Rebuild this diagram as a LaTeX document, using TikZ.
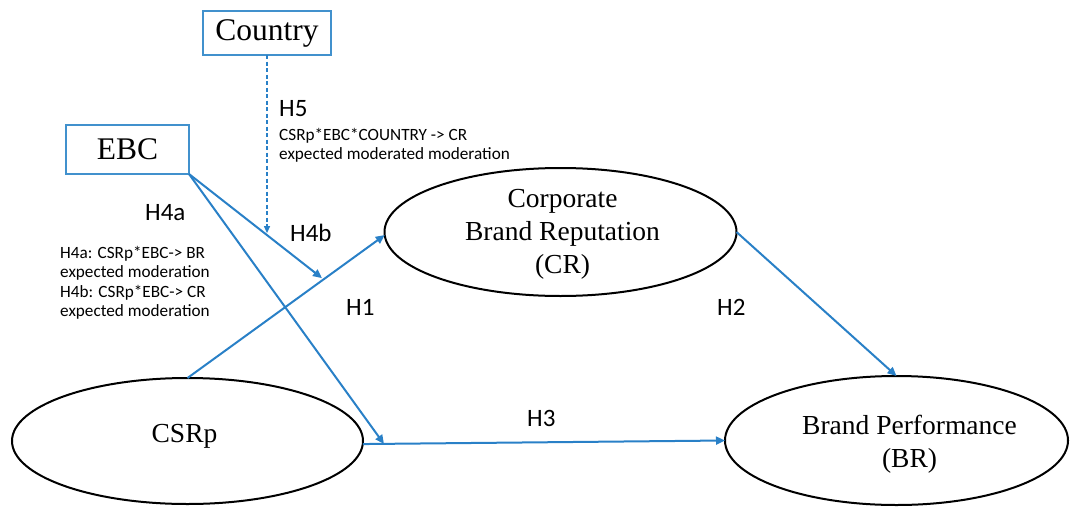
\documentclass[tikz,border=0pt]{standalone}
\usepackage{fontspec}
\setmainfont{Liberation Serif}
\newfontfamily\calfont{Carlito}
\usetikzlibrary{arrows.meta,calc,shapes.geometric}
\definecolor{arrowblue}{RGB}{41,128,199}
\definecolor{boxblue}{RGB}{65,145,205}
\begin{document}
\begin{tikzpicture}[x=1pt,y=-1pt,
  lat/.style={ellipse, draw=black, line width=2pt, inner sep=0pt, outer sep=0pt},
  lattext/.style={inner sep=0pt, align=center, font=\fontsize{27.5}{33}\selectfont},
  modbox/.style={rectangle, draw=boxblue, line width=1.5pt, inner sep=0pt, outer sep=0pt, font=\fontsize{31.5}{36}\selectfont},
  conn/.style={draw=arrowblue, line width=2pt, -{Triangle[length=9pt,width=8pt]}},
  dconn/.style={draw=arrowblue, line width=1.2pt, dash pattern=on 4pt off 2.5pt, -{Triangle[length=7pt,width=6pt]}},
  hlab/.style={font=\calfont\fontsize{25}{30}\selectfont, anchor=base west, inner sep=0pt},
  note/.style={font=\calfont\fontsize{17.2}{20}\selectfont, anchor=base west, inner sep=0pt}
]
\useasboundingbox (0,0) rectangle (1070,506);

% boxes
\node[modbox, minimum width=128pt, minimum height=44pt] (country) at (267,33) {Country};
\node[modbox, minimum width=123pt, minimum height=49pt] (ebc) at (127.5,149.5) {EBC};

% latent variables
\node[lat, minimum width=351pt, minimum height=126pt] (csrp) at (187.5,441) {};
\node[lat, minimum width=352pt, minimum height=128pt] (cr) at (560.5,232) {};
\node[lat, minimum width=343pt, minimum height=129pt] (br) at (896.5,440.5) {};

\node[lattext] (csrpt) at ($(csrp.center)+(-3,-5)$) {CSRp};
\node[lattext] (crt) at ($(cr.center)+(2,2)$) {Corporate\\Brand Reputation\\(CR)};
\node[lattext] (brt) at ($(br.center)+(13,4)$) {Brand Performance\\(BR)};

% interaction points
\coordinate (m4b) at ($(csrp.north)!0.69!(cr.181)$);
\coordinate (m4a) at (384,444);
\coordinate (m5) at ($(ebc.south east)!0.58!(m4b)$);

% paths
\draw[conn] (csrp.north) -- (cr.181);
\draw[conn] (cr.east) -- (br.north);
\draw[conn] (csrp.-1.7) -- (br.west);
\draw[conn, shorten >=2pt] (ebc.south east) -- (m4b);
\draw[conn] (ebc.south east) -- (m4a);
\draw[dconn, shorten >=2pt] (country.south) -- (country.south |- m5);

% labels
\node[hlab] (h5) at (279,116) {H5};
\node[hlab] (h4a) at (145,220) {H4a};
\node[hlab] (h4b) at (290,241) {H4b};
\node[hlab] (h1) at (346,315) {H1};
\node[hlab] (h2) at (717,315) {H2};
\node[hlab] (h3) at (527,426) {H3};

\node[note] (n5a) at (279,140) {CSRp*EBC*COUNTRY -> CR};
\node[note] (n5b) at (279,159) {expected moderated moderation};
\node[note] (n4a) at (60,258.5) {H4a: CSRp*EBC-> BR};
\node[note] (n4b) at (60,277.5) {expected moderation};
\node[note] (n4c) at (60,297) {H4b: CSRp*EBC-> CR};
\node[note] (n4d) at (60,316.5) {expected moderation};
\end{tikzpicture}
\end{document}
